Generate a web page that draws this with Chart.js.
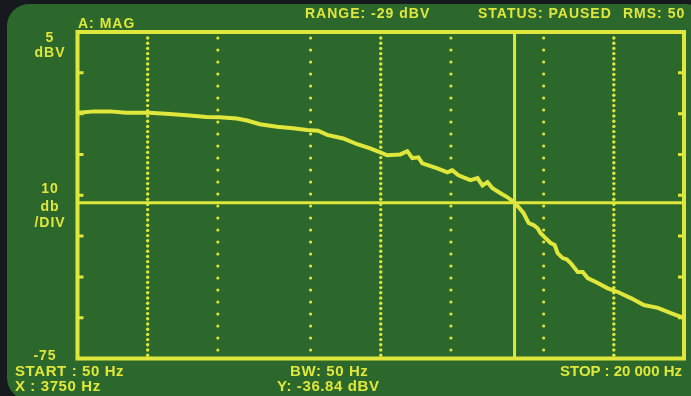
<!DOCTYPE html>
<html>
<head>
<meta charset="utf-8">
<script src="https://cdn.jsdelivr.net/npm/chart.js@4.4.0/dist/chart.umd.min.js"></script>
<style>
  html, body { margin: 0; padding: 0; }
  body { width: 691px; height: 396px; overflow: hidden; background: #16191d; position: relative; }
  #screen { position: absolute; left: 7px; top: 4px; width: 700px; height: 396px; border-radius: 22px; background: #2c682b; }
  #plot { position: absolute; left: 0; top: 0; }
  .lbl { position: absolute; color: #dfe73c; font-family: "Liberation Sans", Arial, sans-serif; font-weight: bold; font-size: 14px; line-height: 14px; letter-spacing: 1px; white-space: nowrap; }
  .big { font-size: 15px; line-height: 15px; letter-spacing: 0.6px; }
  .side { width: 60px; left: 20px; text-align: center; }
</style>
</head>
<body>
<div id="screen"></div>
<canvas id="plot" width="691" height="396"></canvas>

<div class="lbl" style="left:78px; top:16px;">A: MAG</div>
<div class="lbl" style="left:305px; top:6px;">RANGE: -29 dBV</div>
<div class="lbl" style="left:478px; top:6px;">STATUS: PAUSED</div>
<div class="lbl" style="left:623px; top:6px;">RMS: 50</div>

<div class="lbl side" style="top:30px;">5</div>
<div class="lbl side" style="top:45px;">dBV</div>
<div class="lbl side" style="top:181px;">10</div>
<div class="lbl side" style="top:199px;">db</div>
<div class="lbl side" style="top:215px;">/DIV</div>
<div class="lbl side" style="top:348px; left:15px;">-75</div>

<div class="lbl big" style="left:15px; top:363px;">START : 50 Hz</div>
<div class="lbl big" style="left:15px; top:378px;">X : 3750 Hz</div>
<div class="lbl big" style="left:290px; top:363px;">BW: 50 Hz</div>
<div class="lbl big" style="left:277px; top:378px;">Y: -36.84 dBV</div>
<div class="lbl big" style="left:560px; top:363px; letter-spacing:0;">STOP : 20 000 Hz</div>

<script>
// trace
const freqHz = [50, 52, 59, 69, 81, 102, 124, 147, 179, 204, 241, 267, 303, 359, 420, 483, 539, 589, 690, 793,
  901, 995, 1066, 1213, 1300, 1366, 1450, 1508, 1601, 1750, 1932, 2030, 2154, 2308, 2425, 2600, 2732, 2871, 3017,
  3265, 3499, 3750, 3901, 4100, 4308, 4526, 4709, 4851, 5097, 5356, 5572, 5741, 6032, 6276, 6528, 6997, 7352,
  7726, 8530, 9417, 10397, 11824, 13451, 15453, 17573, 19405, 20000];
const magDbv = [-14.7, -14.7, -14.45, -14.45, -14.8, -14.8, -15.1, -15.4, -15.8, -15.9, -16.2, -16.7, -17.6, -18.2,
  -18.6, -19.0, -19.2, -20.2, -21.1, -22.5, -23.5, -24.5, -25.2, -25.0, -24.2, -25.9, -25.7, -27.2, -27.7, -28.4,
  -29.4, -28.9, -30.1, -30.8, -31.3, -30.8, -32.6, -31.8, -33.3, -34.5, -35.5, -36.84, -37.9, -39.4, -41.8, -42.3,
  -43.1, -44.3, -45.5, -46.7, -47.2, -49.2, -50.4, -50.7, -51.6, -53.8, -53.8, -55.3, -56.5, -57.8, -58.7, -60.2,
  -61.9, -62.6, -63.9, -64.8, -65.1];

const decadeLines = [100, 1000, 10000];
const minorLines = [200, 500, 2000, 5000];
const edgeTicksDbv = [-5, -15, -25, -35, -45, -55, -65];
const cursorHz = 3750;
const cursorDbv = -36.84;

const YEL = '#dfe73c';

// graticule, border and cursor drawn from the scales
const screenPlugin = {
  id: 'screen',
  beforeDatasetsDraw(chart) {
    const { ctx, chartArea: a, scales: { x, y } } = chart;
    ctx.save();
    ctx.fillStyle = YEL;
    ctx.strokeStyle = YEL;

    function dotted(freq, gap, r) {
      const px = x.getPixelForValue(freq);
      for (let py = a.top + 6; py < a.bottom - 2; py += gap) {
        ctx.beginPath();
        ctx.arc(px, py, r, 0, Math.PI * 2);
        ctx.fill();
      }
    }
    decadeLines.forEach(f => dotted(f, 5.2, 1.7));
    minorLines.forEach(f => dotted(f, 12, 1.6));

    ctx.lineWidth = 4;
    ctx.strokeRect(a.left, a.top, a.right - a.left, a.bottom - a.top);

    ctx.lineWidth = 3;
    edgeTicksDbv.forEach(v => {
      const py = y.getPixelForValue(v);
      ctx.beginPath();
      ctx.moveTo(a.left, py); ctx.lineTo(a.left + 6, py);
      ctx.moveTo(a.right, py); ctx.lineTo(a.right - 6, py);
      ctx.stroke();
    });

    const cx = x.getPixelForValue(cursorHz);
    const cy = y.getPixelForValue(cursorDbv);
    ctx.beginPath();
    ctx.moveTo(cx, a.top); ctx.lineTo(cx, a.bottom);
    ctx.moveTo(a.left, cy); ctx.lineTo(a.right, cy);
    ctx.stroke();
    ctx.restore();
  }
};

new Chart(document.getElementById('plot'), {
  type: 'line',
  data: {
    datasets: [{
      data: freqHz.map((f, i) => ({ x: f, y: magDbv[i] })),
      borderColor: YEL,
      borderWidth: 4,
      pointRadius: 0,
      tension: 0,
      fill: false
    }]
  },
  plugins: [screenPlugin],
  options: {
    responsive: false,
    animation: false,
    devicePixelRatio: 1,
    layout: { padding: { left: 77.5, right: 7, top: 32, bottom: 37.5 } },
    scales: {
      x: { type: 'logarithmic', min: 50, max: 20000, display: false },
      y: { type: 'linear', min: -75, max: 5, display: false }
    },
    plugins: {
      legend: { display: false },
      tooltip: { enabled: false }
    }
  }
});
</script>
</body>
</html>
